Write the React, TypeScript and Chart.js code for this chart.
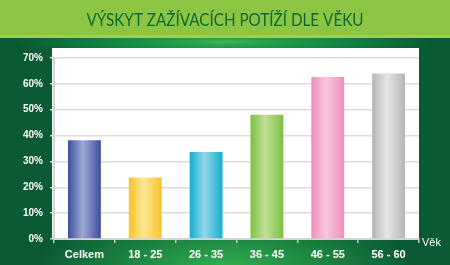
import React, { useEffect, useRef } from "react";
import { Chart, registerables } from "chart.js";

Chart.register(...registerables);

const TITLE = "VÝSKYT ZAŽÍVACÍCH POTÍŽÍ DLE VĚKU";
const AXIS_LABEL = "Věk";
const categories = ["Celkem", "18 - 25", "26 - 35", "36 - 45", "46 - 55", "56 - 60"];
const values = [38.2, 23.8, 33.6, 48.1, 62.7, 64.0];
const yTicks = [0, 10, 20, 30, 40, 50, 60, 70];
const edgeColors = ["#3c4f9f", "#f8c22c", "#10b0d0", "#7cc043", "#ee8dbc", "#b3b5b9"];
const midColors = ["#a0a8d4", "#fee792", "#96d7e8", "#c2e097", "#f8c7df", "#e4e5e7"];

const BAR_PCT = 0.54;
const TITLE_WIDTH = 277;

const bgPlugin = {
  id: "bgPlugin",
  beforeDraw(chart: any) {
    const { ctx, width, height, chartArea: a } = chart;
    ctx.save();
    ctx.fillStyle = "#0a5a34";
    ctx.fillRect(0, 0, width, height);

    // bottom glow
    ctx.save();
    ctx.translate(width / 2, height + 5);
    ctx.scale(1, 0.35);
    let g = ctx.createRadialGradient(0, 0, 0, 0, 0, 190);
    g.addColorStop(0, "rgba(50,178,80,1)");
    g.addColorStop(1, "rgba(50,178,80,0)");
    ctx.fillStyle = g;
    ctx.fillRect(-300, -300, 600, 600);
    ctx.restore();

    // top glow band
    ctx.save();
    ctx.translate(width / 2, 42);
    ctx.scale(1, 0.08);
    g = ctx.createRadialGradient(0, 0, 0, 0, 0, 210);
    g.addColorStop(0, "rgba(60,182,80,1)");
    g.addColorStop(0.5, "rgba(20,150,70,0.8)");
    g.addColorStop(1, "rgba(20,150,70,0)");
    ctx.fillStyle = g;
    ctx.fillRect(-300, -300, 600, 600);
    ctx.restore();

    // title banner
    ctx.fillStyle = "#8cc541";
    ctx.fillRect(0, 0, width, 38);
    ctx.fillStyle = "#9ccf55";
    ctx.fillRect(0, 35, width, 3);

    // title text
    ctx.save();
    ctx.font = "16.5px Lato, 'Open Sans', sans-serif";
    ctx.fillStyle = "#0c6935";
    ctx.textAlign = "center";
    ctx.textBaseline = "middle";
    const tw = ctx.measureText(TITLE).width;
    const sx = Math.min(1, TITLE_WIDTH / tw);
    ctx.translate(width / 2, 21);
    ctx.scale(sx, 1);
    ctx.fillText(TITLE, 0, 0);
    ctx.restore();

    // white plot panel
    ctx.fillStyle = "#ffffff";
    ctx.fillRect(a.left - 2, a.top - 10, a.right - a.left + 2, a.bottom - a.top + 10);
    ctx.restore();
  },
  afterDraw(chart: any) {
    const { ctx, chartArea: a } = chart;
    ctx.save();
    ctx.fillStyle = "#ffffff";
    ctx.font = "11px 'Liberation Sans', Arial, sans-serif";
    ctx.textAlign = "left";
    ctx.textBaseline = "middle";
    ctx.fillText(AXIS_LABEL, a.right + 3, a.bottom + 4);
    ctx.restore();
  },
};

function barGradient(c: any) {
  const i = c.dataIndex ?? 0;
  const chart = c.chart;
  const xs = chart.scales && chart.scales.x;
  if (!xs || !chart.chartArea || xs.right === xs.left) return edgeColors[i];
  const cx = xs.getPixelForValue(i);
  const w = ((xs.right - xs.left) / categories.length) * BAR_PCT;
  const g = chart.ctx.createLinearGradient(cx - w / 2, 0, cx + w / 2, 0);
  g.addColorStop(0, edgeColors[i]);
  g.addColorStop(0.45, midColors[i]);
  g.addColorStop(1, edgeColors[i]);
  return g;
}

export default function App() {
  const ref = useRef<HTMLCanvasElement | null>(null);
  useEffect(() => {
    if (!ref.current) return;
    const chart = new Chart(ref.current, {
      type: "bar",
      data: {
        labels: categories,
        datasets: [
          {
            data: values,
            backgroundColor: barGradient as any,
            borderWidth: 0,
            barPercentage: BAR_PCT,
            categoryPercentage: 1,
          },
        ],
      },
      options: {
        animation: false,
        responsive: false,
        layout: { padding: { left: 0, right: 31, top: 58, bottom: 0 } },
        plugins: {
          legend: { display: false },
          tooltip: { enabled: false },
          title: { display: false },
        },
        scales: {
          x: {
            afterFit: (s: any) => {
              s.height = 26;
            },
            grid: {
              display: true,
              drawOnChartArea: false,
              drawTicks: true,
              tickLength: 4,
              color: "#c8c8c8",
              lineWidth: 1.5,
            },
            border: { display: true, color: "#d4d4d4", width: 2 },
            ticks: {
              color: "#ffffff",
              padding: 5,
              font: { family: "'Liberation Sans', Arial, sans-serif", size: 11, weight: "bold" },
            },
          },
          y: {
            min: 0,
            max: 70,
            afterFit: (s: any) => {
              s.width = 54;
            },
            afterBuildTicks: (s: any) => {
              s.ticks = yTicks.map((v) => ({ value: v }));
            },
            grid: {
              color: "#dcdcdc",
              lineWidth: 1.5,
              tickLength: 4,
              drawTicks: true,
            },
            border: { display: true, color: "#d4d4d4", width: 2 },
            ticks: {
              color: "#ffffff",
              padding: 7,
              font: { family: "'Liberation Sans', Arial, sans-serif", size: 10, weight: "bold" },
              callback: (v: any) => v + "%",
            },
          },
        },
      },
      plugins: [bgPlugin],
    });
    return () => chart.destroy();
  }, []);
  return (
    <div style={{ position: "absolute", left: 0, top: 0, width: 450, height: 265 }}>
      <canvas ref={ref} width={450} height={265} style={{ display: "block", width: 450, height: 265 }} />
    </div>
  );
}
